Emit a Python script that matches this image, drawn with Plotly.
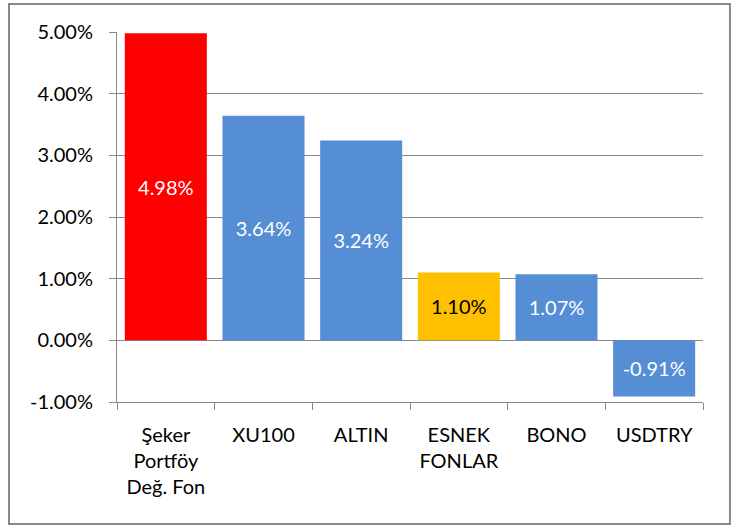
import plotly.graph_objects as go

categories = ["Şeker<br>Portföy<br>Değ. Fon", "XU100", "ALTIN", "ESNEK<br>FONLAR", "BONO", "USDTRY"]
values = [0.0498, 0.0364, 0.0324, 0.0110, 0.0107, -0.0091]
bar_colors = ["#FF0000", "#558ED5", "#558ED5", "#FFC000", "#558ED5", "#558ED5"]
text_colors = ["white", "white", "white", "black", "white", "white"]
y_ticks = [-0.01, 0.0, 0.01, 0.02, 0.03, 0.04, 0.05]
y_tick_labels = ["-1.00%", "0.00%", "1.00%", "2.00%", "3.00%", "4.00%", "5.00%"]

FONT = "Lato, Carlito, Calibri, sans-serif"
FS = 20
GRAY = "#898989"

fig = go.Figure(go.Bar(
    x=categories,
    y=values,
    marker=dict(color=bar_colors, line=dict(width=0)),
    text=[f"{v*100:.2f}%" for v in values],
    textposition="inside",
    insidetextanchor="middle",
    textangle=0,
    textfont=dict(family=FONT, size=FS, color=text_colors),
    cliponaxis=False,
    hoverinfo="skip",
))

fig.update_layout(
    width=749, height=529,
    margin=dict(l=117, r=46, t=32, b=127),
    paper_bgcolor="white", plot_bgcolor="white",
    bargap=0.16,
    showlegend=False,
    font=dict(family=FONT, size=FS, color="black"),
    uniformtext=dict(minsize=FS, mode="show"),
    shapes=[dict(type="rect", xref="paper", yref="paper",
                 x0=-0.1843, x1=1.046, y0=-0.3297, y1=1.0757,
                 line=dict(color=GRAY, width=2), fillcolor="rgba(0,0,0,0)", layer="above")],
)
fig.update_yaxes(
    range=[-0.01, 0.05], tickvals=y_ticks, ticktext=y_tick_labels,
    showgrid=True, gridcolor=GRAY, gridwidth=1,
    zeroline=True, zerolinecolor=GRAY, zerolinewidth=1,
    showline=True, linecolor=GRAY, linewidth=1,
    ticks="outside", ticklen=7, tickcolor=GRAY, ticklabelstandoff=12,
    tickfont=dict(family=FONT, size=FS, color="black"),
)
fig.update_xaxes(
    showline=True, linecolor=GRAY, linewidth=1,
    ticks="outside", ticklen=7, tickcolor=GRAY, tickson="boundaries",
    ticklabelstandoff=15,
    tickfont=dict(family=FONT, size=FS, color="black"),
    tickangle=0,
)

fig.write_html("out.html", config={"displayModeBar": False},
               post_script="document.body.style.margin='0';")
